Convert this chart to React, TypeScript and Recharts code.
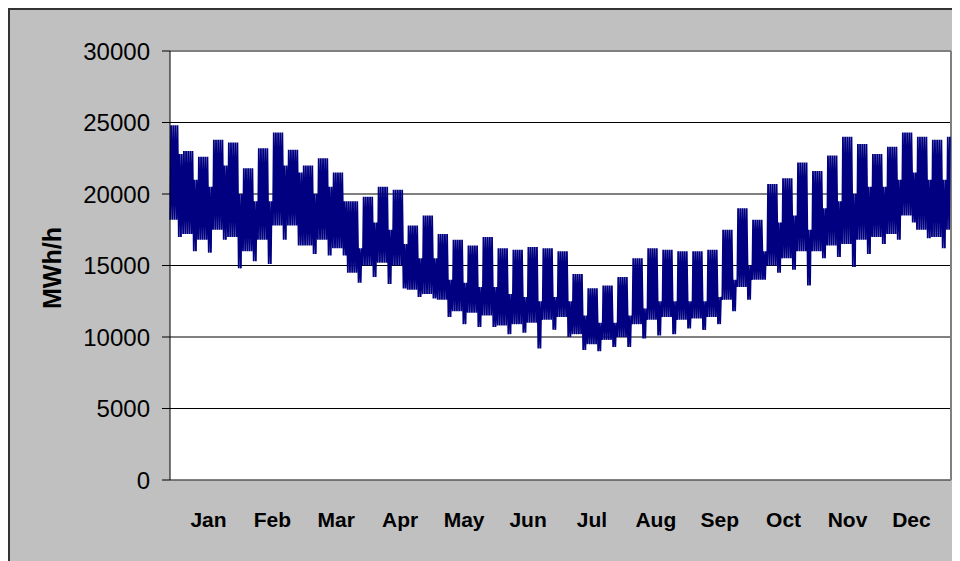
import { LineChart, Line, XAxis, YAxis, CartesianGrid, ReferenceLine } from 'recharts'

// weekly levels, week = Mon..Sun (Jan 1 is a Tuesday)
const weekdayHigh = [
  24800, 23000, 22600, 23800, 23600, 21800, 23200, 24300, 23100, 22000, 22500, 21500, 19500,
  19800, 20500, 20300, 17800, 18500, 17200, 16800, 16400, 17000, 16200, 16100, 16300, 16200,
  16000, 14400, 13400, 13600, 14200, 15500, 16200, 16100, 16000, 16000, 16100, 17500, 19000,
  18200, 20700, 21100, 22200, 21600, 22700, 24000, 23500, 22800, 23300, 24300, 24000, 23800, 24000,
]
const weekdayLow = [
  18200, 17200, 16800, 17500, 17000, 16000, 16800, 17800, 17800, 16400, 16800, 16200, 14500,
  15000, 15200, 15000, 13300, 13000, 12600, 11800, 11700, 11500, 10800, 10900, 11000, 11200,
  11400, 10200, 9500, 9800, 10000, 10900, 11200, 11400, 11200, 11300, 11400, 12600, 13500,
  14000, 15000, 15500, 16000, 16000, 16400, 16500, 16800, 17000, 17200, 18500, 17500, 17000, 17500,
]
const weekendHigh = [
  22800, 21000, 20500, 22000, 20000, 19500, 19500, 22000, 21500, 20000, 20500, 19500, 16200,
  18000, 17500, 16500, 15500, 15500, 14000, 13800, 13500, 13500, 13000, 12800, 12500, 12800,
  12500, 11500, 11000, 11000, 11500, 12000, 12500, 12500, 12500, 12500, 12800, 14000, 15000,
  16000, 18000, 18500, 17500, 19000, 19500, 20000, 20500, 20500, 21000, 21500, 21000, 21000, 21000,
]
const weekendLow = [
  17000, 16000, 15900, 16800, 14800, 15300, 15100, 16800, 16400, 15800, 15700, 15700, 13800,
  14200, 13700, 13400, 12800, 12700, 11400, 10900, 10700, 10700, 10200, 10300, 9200, 10500,
  10000, 9100, 9000, 9300, 9300, 9900, 10100, 10200, 10600, 10500, 10900, 11800, 12600,
  14000, 14500, 14700, 13600, 15500, 15600, 14900, 15800, 16500, 16800, 18000, 16900, 16200, 16500,
]

const monthLabels = ['Jan', 'Feb', 'Mar', 'Apr', 'May', 'Jun', 'Jul', 'Aug', 'Sep', 'Oct', 'Nov', 'Dec']
const monthTicks = [432, 1149, 1865, 2582, 3299, 4016, 4732, 5449, 6166, 6882, 7599, 8316]
const yTicks = [0, 5000, 10000, 15000, 20000, 25000, 30000]

// two points per day: night trough, day peak
const data: { h: number; v: number }[] = []
for (let d = 0; d < 365; d++) {
  const w = Math.floor((d + 1) / 7)
  const weekend = (d + 1) % 7 >= 5
  data.push({ h: d * 24 + 3, v: weekend ? weekendLow[w] : weekdayLow[w] })
  data.push({ h: d * 24 + 12, v: weekend ? weekendHigh[w] : weekdayHigh[w] })
}

const font = '"Liberation Sans", Arial, sans-serif'

function YLabel() {
  return (
    <text transform="translate(51,258) rotate(-90)" textAnchor="middle"
      fontFamily={font} fontSize={25} fontWeight="bold" fill="#000">
      MWh/h
    </text>
  )
}

export default function App() {
  return (
    <div style={{
      width: 952, height: 553, boxSizing: 'border-box', background: '#c0c0c0',
      borderTop: '2px solid #333', borderLeft: '2px solid #333',
    }}>
      <LineChart width={950} height={551} data={data}
        margin={{ top: 41, right: 9, bottom: 21, left: 0 }}>
        <CartesianGrid vertical={false} stroke="#000" fill="#fff" fillOpacity={1} />
        <XAxis dataKey="h" type="number" domain={[0, 8760]} ticks={monthTicks} interval={0}
          tickFormatter={(_v, i) => monthLabels[i]} tickLine={false} tickSize={0} tickMargin={32}
          height={60} axisLine={{ stroke: '#808080' }}
          tick={{ fill: '#000', fontSize: 21, fontWeight: 'bold', fontFamily: font }} />
        <YAxis type="number" domain={[0, 30000]} ticks={yTicks} interval={0} width={160}
          tickSize={8} tickMargin={12} axisLine={{ stroke: '#000' }} tickLine={{ stroke: '#000' }}
          tick={{ fill: '#000', fontSize: 24, fontFamily: font }} label={<YLabel />} />
        <ReferenceLine y={30000} stroke="#808080" strokeWidth={2} />
        <ReferenceLine x={8760} stroke="#808080" strokeWidth={2} />
        <Line type="linear" dataKey="v" stroke="#000080" strokeWidth={1.8} dot={false}
          isAnimationActive={false} />
      </LineChart>
    </div>
  )
}
